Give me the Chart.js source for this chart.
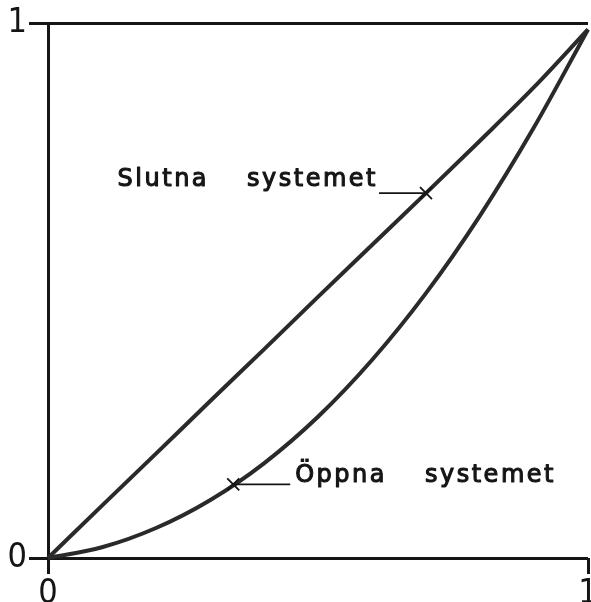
<!DOCTYPE html>
<html>
<head>
<meta charset="utf-8">
<script src="https://cdn.jsdelivr.net/npm/chart.js@4.4.1/dist/chart.umd.min.js"></script>
<style>
  body { margin: 0; background: #fff; }
  canvas { display: block; }
</style>
</head>
<body>
<canvas id="chart" width="591" height="602"></canvas>
<script>
// values, both axes run 0..1
const xValues = [0, 0.1, 0.2, 0.3, 0.4, 0.5, 0.6, 0.7, 0.8, 0.9, 1];
const slutnaValues = [0, 0.098, 0.195, 0.293, 0.39, 0.488, 0.585, 0.682, 0.78, 0.88, 0.988];
const oppnaValues = [0, 0.020, 0.056, 0.108, 0.177, 0.264, 0.370, 0.495, 0.640, 0.805, 0.988];
const tickValues = [0, 1];
const seriesNames = [['Slutna', 'systemet'], ['Öppna', 'systemet']];
// x where each name points at its curve
const pointerAt = [0.70, 0.343];

const ink = '#151515';

function valueAt(xs, ys, x) {
  for (let i = 1; i < xs.length; i++) {
    if (x <= xs[i]) {
      const t = (x - xs[i - 1]) / (xs[i] - xs[i - 1]);
      return ys[i - 1] + t * (ys[i] - ys[i - 1]);
    }
  }
  return ys[ys.length - 1];
}

function toPoints(ys) {
  return xValues.map((x, i) => ({ x: x, y: ys[i] }));
}

// writes the two words with wide letter spacing, like stencil lettering
function drawWords(ctx, words, x, baseline, alignRight) {
  ctx.save();
  ctx.font = '24px "DejaVu Sans"';
  ctx.letterSpacing = '2.5px';
  ctx.fillStyle = ink;
  ctx.strokeStyle = ink;
  ctx.lineWidth = 1.1;
  ctx.lineJoin = 'round';
  ctx.textBaseline = 'alphabetic';
  ctx.textAlign = 'left';
  const gap = 38;
  const w0 = ctx.measureText(words[0]).width;
  const w1 = ctx.measureText(words[1]).width;
  let start = alignRight ? x - (w0 + gap + w1) : x;
  ctx.fillText(words[0], start, baseline);
  ctx.strokeText(words[0], start, baseline);
  ctx.fillText(words[1], start + w0 + gap, baseline);
  ctx.strokeText(words[1], start + w0 + gap, baseline);
  ctx.restore();
  return start + w0 + gap + w1;
}

function drawCross(ctx, px, py) {
  ctx.beginPath();
  ctx.moveTo(px - 6, py - 6);
  ctx.lineTo(px + 6, py + 6);
  ctx.moveTo(px - 6, py + 6);
  ctx.lineTo(px + 6, py - 6);
  ctx.stroke();
}

const namePlugin = {
  id: 'names',
  afterDatasetsDraw(chart) {
    const ctx = chart.ctx;
    const xs = chart.scales.x;
    const ys = chart.scales.y;
    ctx.save();
    ctx.strokeStyle = ink;
    ctx.lineWidth = 1.8;

    // Slutna systemet: name on the left, leader runs right to the curve
    let px = xs.getPixelForValue(pointerAt[0]);
    let py = ys.getPixelForValue(valueAt(xValues, slutnaValues, pointerAt[0]));
    let textEnd = px - 48;
    drawWords(ctx, seriesNames[0], textEnd, py - 7, true);
    ctx.beginPath();
    ctx.moveTo(textEnd + 1, py);
    ctx.lineTo(px, py);
    ctx.stroke();
    drawCross(ctx, px, py);

    // Öppna systemet: name on the right
    px = xs.getPixelForValue(pointerAt[1]);
    py = ys.getPixelForValue(valueAt(xValues, oppnaValues, pointerAt[1]));
    ctx.beginPath();
    ctx.moveTo(px, py);
    ctx.lineTo(px + 57, py);
    ctx.stroke();
    drawCross(ctx, px, py);
    drawWords(ctx, seriesNames[1], px + 62, py - 2, false);
    ctx.restore();
  }
};

function axis(isX) {
  return {
    type: 'linear',
    min: 0,
    max: 1,
    afterBuildTicks: s => { s.ticks = tickValues.map(v => ({ value: v })); },
    ticks: {
      font: { family: 'DejaVu Sans Condensed', size: 34 },
      color: ink,
      padding: isX ? 0 : 2,
      maxRotation: 0,
      callback: v => String(v)
    },
    grid: {
      lineWidth: 3,
      color: c => (isX && c.tick && c.tick.value === 1) ? 'rgba(0,0,0,0)' : ink,
      tickColor: ink,
      tickLength: isX ? 16 : 19
    },
    border: { display: false },
    afterFit: s => {
      if (isX) {
        s.height = 44;
        s.paddingLeft = 0;
        s.paddingRight = 0;
      } else {
        s.width = 48;
        s.paddingTop = 0;
        s.paddingBottom = 0;
      }
    }
  };
}

new Chart(document.getElementById('chart'), {
  type: 'line',
  data: {
    datasets: [
      {
        label: seriesNames[0].join(' '),
        data: toPoints(slutnaValues),
        borderColor: '#2a2a2a',
        borderWidth: 4,
        pointRadius: 0,
        cubicInterpolationMode: 'monotone',
        clip: false
      },
      {
        label: seriesNames[1].join(' '),
        data: toPoints(oppnaValues),
        borderColor: '#2a2a2a',
        borderWidth: 4,
        pointRadius: 0,
        cubicInterpolationMode: 'monotone',
        clip: false
      }
    ]
  },
  options: {
    responsive: false,
    animation: false,
    layout: { padding: { top: 23, right: 3, left: 0, bottom: 0 } },
    plugins: {
      legend: { display: false },
      tooltip: { enabled: false }
    },
    scales: {
      x: axis(true),
      y: axis(false)
    }
  },
  plugins: [namePlugin]
});
</script>
</body>
</html>
